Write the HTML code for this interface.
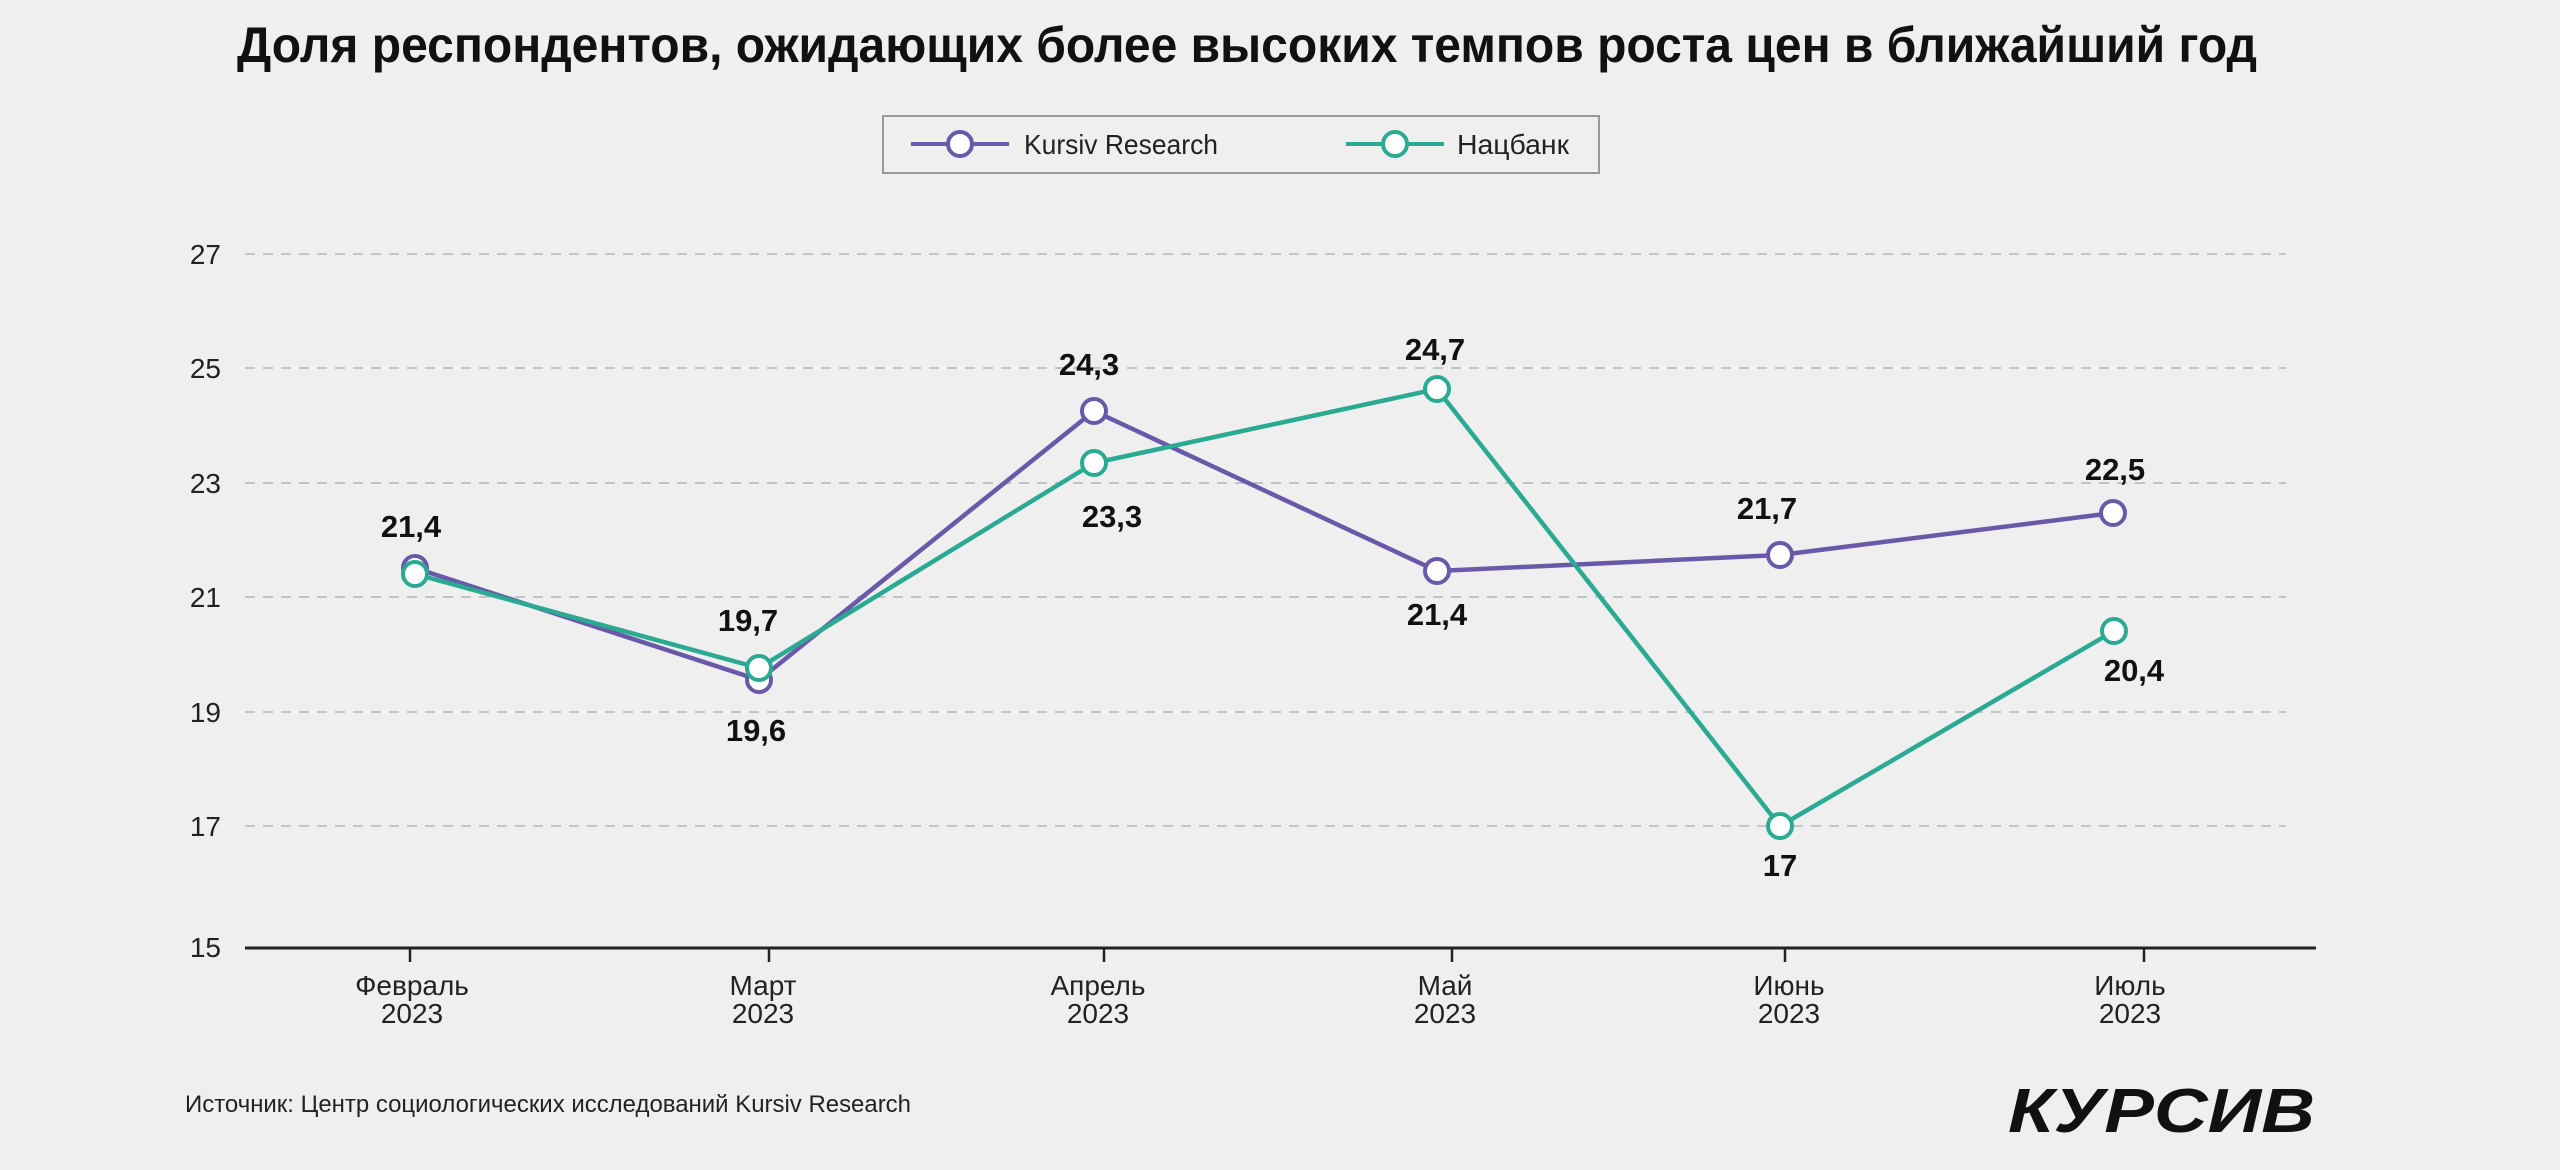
<!DOCTYPE html>
<html><head><meta charset="utf-8"><style>
html,body{margin:0;padding:0;background:#efefef;}
svg{display:block;}
text{font-family:"Liberation Sans","DejaVu Sans",sans-serif;}
</style></head><body>
<svg width="2560" height="1170" viewBox="0 0 2560 1170" xmlns="http://www.w3.org/2000/svg">
<rect width="2560" height="1170" fill="#efefef"/>
<text x="1247" y="62" text-anchor="middle" font-size="50" font-weight="bold" textLength="2020" lengthAdjust="spacingAndGlyphs" fill="#111">Доля респондентов, ожидающих более высоких темпов роста цен в ближайший год</text>
<rect x="883" y="116" width="716" height="57" fill="#efefef" stroke="#999" stroke-width="2"/>
<line x1="911" y1="144" x2="1009" y2="144" stroke="#6a58a8" stroke-width="4"/>
<circle cx="960" cy="144" r="12" fill="#fff" stroke="#6a58a8" stroke-width="4"/>
<text x="1024" y="154" font-size="28" fill="#222" textLength="194" lengthAdjust="spacingAndGlyphs">Kursiv Research</text>
<line x1="1346" y1="144" x2="1444" y2="144" stroke="#2aaa92" stroke-width="4"/>
<circle cx="1395" cy="144" r="12" fill="#fff" stroke="#2aaa92" stroke-width="4"/>
<text x="1457" y="154" font-size="28" fill="#222" textLength="112" lengthAdjust="spacingAndGlyphs">Нацбанк</text>
<g stroke="#c4c4c4" stroke-width="2" stroke-dasharray="10,8">
<line x1="245" y1="254" x2="2286" y2="254"/>
<line x1="245" y1="368" x2="2286" y2="368"/>
<line x1="245" y1="483" x2="2286" y2="483"/>
<line x1="245" y1="597" x2="2286" y2="597"/>
<line x1="245" y1="712" x2="2286" y2="712"/>
<line x1="245" y1="826" x2="2286" y2="826"/>
</g>
<g font-size="28" fill="#222" text-anchor="end">
<text x="221" y="264">27</text><text x="221" y="378">25</text><text x="221" y="493">23</text>
<text x="221" y="607">21</text><text x="221" y="722">19</text><text x="221" y="836">17</text><text x="221" y="957">15</text>
</g>
<line x1="245" y1="948" x2="2316" y2="948" stroke="#222" stroke-width="3"/>
<g stroke="#222" stroke-width="2.5">
<line x1="410" y1="948" x2="410" y2="962"/><line x1="769" y1="948" x2="769" y2="962"/>
<line x1="1104" y1="948" x2="1104" y2="962"/><line x1="1452" y1="948" x2="1452" y2="962"/>
<line x1="1785" y1="948" x2="1785" y2="962"/><line x1="2144" y1="948" x2="2144" y2="962"/>
</g>
<g font-size="28" fill="#222" text-anchor="middle">
<text x="412" y="995">Февраль</text><text x="412" y="1023">2023</text>
<text x="763" y="995">Март</text><text x="763" y="1023">2023</text>
<text x="1098" y="995">Апрель</text><text x="1098" y="1023">2023</text>
<text x="1445" y="995">Май</text><text x="1445" y="1023">2023</text>
<text x="1789" y="995">Июнь</text><text x="1789" y="1023">2023</text>
<text x="2130" y="995">Июль</text><text x="2130" y="1023">2023</text>
</g>
<polyline fill="none" stroke="#6a58a8" stroke-width="4.5" stroke-linejoin="round" points="415,568 759,680 1094,411 1437,571 1780,555 2113,513"/>
<polyline fill="none" stroke="#2aaa92" stroke-width="4.5" stroke-linejoin="round" points="415,574 759,668 1094,463 1437,389 1780,826 2114,631"/>
<g fill="#fff" stroke="#6a58a8" stroke-width="4">
<circle cx="415" cy="568" r="12"/><circle cx="759" cy="680" r="12"/><circle cx="1094" cy="411" r="12"/>
<circle cx="1437" cy="571" r="12"/><circle cx="1780" cy="555" r="12"/><circle cx="2113" cy="513" r="12"/>
</g>
<g fill="#fff" stroke="#2aaa92" stroke-width="4">
<circle cx="415" cy="574" r="12"/><circle cx="759" cy="668" r="12"/><circle cx="1094" cy="463" r="12"/>
<circle cx="1437" cy="389" r="12"/><circle cx="1780" cy="826" r="12"/><circle cx="2114" cy="631" r="12"/>
</g>
<g font-size="31" font-weight="bold" fill="#111" text-anchor="middle">
<text x="411" y="537">21,4</text><text x="748" y="631">19,7</text><text x="756" y="741">19,6</text>
<text x="1089" y="375">24,3</text><text x="1112" y="527">23,3</text><text x="1435" y="360">24,7</text>
<text x="1437" y="625">21,4</text><text x="1767" y="519">21,7</text><text x="2115" y="480">22,5</text>
<text x="1780" y="876">17</text><text x="2134" y="681">20,4</text>
</g>
<text x="185" y="1112" font-size="24" fill="#222" textLength="726" lengthAdjust="spacingAndGlyphs">Источник: Центр социологических исследований Kursiv Research</text>
<text x="2008" y="1132" font-size="62" font-weight="bold" font-style="italic" fill="#111" textLength="307" lengthAdjust="spacingAndGlyphs">КУРСИВ</text>
</svg>
</body></html>
